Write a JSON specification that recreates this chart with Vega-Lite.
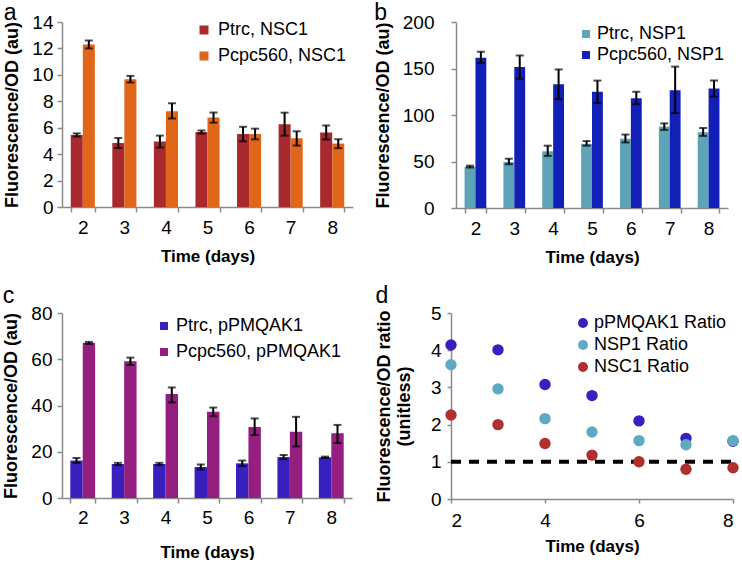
{
  "$schema": "https://vega.github.io/schema/vega-lite/v6.json",
  "padding": {"left": 2, "top": 2, "right": 0, "bottom": 0},
  "background": "white",
  "datasets": {
    "a": [
      {"day": 2, "series": "Ptrc, NSC1", "value": 5.45, "lo": 5.33, "hi": 5.57},
      {"day": 3, "series": "Ptrc, NSC1", "value": 4.84, "lo": 4.46, "hi": 5.22},
      {"day": 4, "series": "Ptrc, NSC1", "value": 4.95, "lo": 4.5, "hi": 5.4},
      {"day": 5, "series": "Ptrc, NSC1", "value": 5.67, "lo": 5.55, "hi": 5.79},
      {"day": 6, "series": "Ptrc, NSC1", "value": 5.52, "lo": 4.97, "hi": 6.07},
      {"day": 7, "series": "Ptrc, NSC1", "value": 6.27, "lo": 5.4, "hi": 7.14},
      {"day": 8, "series": "Ptrc, NSC1", "value": 5.64, "lo": 5.11, "hi": 6.17},
      {"day": 2, "series": "Pcpc560, NSC1", "value": 12.3, "lo": 12.0, "hi": 12.6},
      {"day": 3, "series": "Pcpc560, NSC1", "value": 9.67, "lo": 9.42, "hi": 9.92},
      {"day": 4, "series": "Pcpc560, NSC1", "value": 7.25, "lo": 6.7, "hi": 7.85},
      {"day": 5, "series": "Pcpc560, NSC1", "value": 6.78, "lo": 6.38, "hi": 7.15},
      {"day": 6, "series": "Pcpc560, NSC1", "value": 5.52, "lo": 5.12, "hi": 5.93},
      {"day": 7, "series": "Pcpc560, NSC1", "value": 5.2, "lo": 4.65, "hi": 5.73},
      {"day": 8, "series": "Pcpc560, NSC1", "value": 4.8, "lo": 4.45, "hi": 5.13}
    ],
    "b": [
      {"day": 2, "series": "Ptrc, NSP1", "value": 44.5, "lo": 43.5, "hi": 45.5},
      {"day": 3, "series": "Ptrc, NSP1", "value": 49.5, "lo": 47, "hi": 53},
      {"day": 4, "series": "Ptrc, NSP1", "value": 61, "lo": 56, "hi": 67},
      {"day": 5, "series": "Ptrc, NSP1", "value": 69, "lo": 67, "hi": 72},
      {"day": 6, "series": "Ptrc, NSP1", "value": 74.5, "lo": 70.5, "hi": 79},
      {"day": 7, "series": "Ptrc, NSP1", "value": 87.5, "lo": 84, "hi": 91},
      {"day": 8, "series": "Ptrc, NSP1", "value": 81.5, "lo": 77.5, "hi": 86},
      {"day": 2, "series": "Pcpc560, NSP1", "value": 161.5, "lo": 156, "hi": 168},
      {"day": 3, "series": "Pcpc560, NSP1", "value": 151.5, "lo": 139, "hi": 164},
      {"day": 4, "series": "Pcpc560, NSP1", "value": 133, "lo": 117, "hi": 149},
      {"day": 5, "series": "Pcpc560, NSP1", "value": 125, "lo": 113, "hi": 137},
      {"day": 6, "series": "Pcpc560, NSP1", "value": 118, "lo": 111.5, "hi": 125},
      {"day": 7, "series": "Pcpc560, NSP1", "value": 126.5, "lo": 102, "hi": 152},
      {"day": 8, "series": "Pcpc560, NSP1", "value": 128.5, "lo": 119.5, "hi": 137}
    ],
    "c": [
      {"day": 2, "series": "Ptrc, pPMQAK1", "value": 16.2, "lo": 15.2, "hi": 17.3},
      {"day": 3, "series": "Ptrc, pPMQAK1", "value": 14.7, "lo": 14.2, "hi": 15.2},
      {"day": 4, "series": "Ptrc, pPMQAK1", "value": 14.7, "lo": 14.2, "hi": 15.2},
      {"day": 5, "series": "Ptrc, pPMQAK1", "value": 13.4, "lo": 12.3, "hi": 14.5},
      {"day": 6, "series": "Ptrc, pPMQAK1", "value": 15.0, "lo": 13.8, "hi": 16.2},
      {"day": 7, "series": "Ptrc, pPMQAK1", "value": 17.7, "lo": 16.8, "hi": 18.6},
      {"day": 8, "series": "Ptrc, pPMQAK1", "value": 17.6, "lo": 17.3, "hi": 17.9},
      {"day": 2, "series": "Pcpc560, pPMQAK1", "value": 67.1, "lo": 66.6, "hi": 67.5},
      {"day": 3, "series": "Pcpc560, pPMQAK1", "value": 59.1, "lo": 57.5, "hi": 60.7},
      {"day": 4, "series": "Pcpc560, pPMQAK1", "value": 45.0, "lo": 41.3, "hi": 47.8},
      {"day": 5, "series": "Pcpc560, pPMQAK1", "value": 37.3, "lo": 35.4, "hi": 39.1},
      {"day": 6, "series": "Pcpc560, pPMQAK1", "value": 30.7, "lo": 27.2, "hi": 34.4},
      {"day": 7, "series": "Pcpc560, pPMQAK1", "value": 28.6, "lo": 22.3, "hi": 35.1},
      {"day": 8, "series": "Pcpc560, pPMQAK1", "value": 28.0, "lo": 23.8, "hi": 31.6}
    ],
    "d": [
      {"day": 2, "series": "pPMQAK1 Ratio", "ratio": 4.14},
      {"day": 3, "series": "pPMQAK1 Ratio", "ratio": 4.01},
      {"day": 4, "series": "pPMQAK1 Ratio", "ratio": 3.08},
      {"day": 5, "series": "pPMQAK1 Ratio", "ratio": 2.78},
      {"day": 6, "series": "pPMQAK1 Ratio", "ratio": 2.1},
      {"day": 7, "series": "pPMQAK1 Ratio", "ratio": 1.63},
      {"day": 8, "series": "pPMQAK1 Ratio", "ratio": 1.55},
      {"day": 2, "series": "NSP1 Ratio", "ratio": 3.61},
      {"day": 3, "series": "NSP1 Ratio", "ratio": 2.96},
      {"day": 4, "series": "NSP1 Ratio", "ratio": 2.16},
      {"day": 5, "series": "NSP1 Ratio", "ratio": 1.8},
      {"day": 6, "series": "NSP1 Ratio", "ratio": 1.57},
      {"day": 7, "series": "NSP1 Ratio", "ratio": 1.46},
      {"day": 8, "series": "NSP1 Ratio", "ratio": 1.57},
      {"day": 2, "series": "NSC1 Ratio", "ratio": 2.26},
      {"day": 3, "series": "NSC1 Ratio", "ratio": 2.0},
      {"day": 4, "series": "NSC1 Ratio", "ratio": 1.49},
      {"day": 5, "series": "NSC1 Ratio", "ratio": 1.18},
      {"day": 6, "series": "NSC1 Ratio", "ratio": 1.0},
      {"day": 7, "series": "NSC1 Ratio", "ratio": 0.8},
      {"day": 8, "series": "NSC1 Ratio", "ratio": 0.84}
    ],
    "ref": [
      {"day": 2, "ratio": 1},
      {"day": 8, "ratio": 1}
    ]
  },
  "spacing": 20,
  "resolve": {"scale": {"color": "independent", "xOffset": "independent"}, "legend": {"color": "independent"}},
  "vconcat": [
    {
      "spacing": 21,
      "resolve": {"scale": {"color": "independent", "xOffset": "independent"}, "legend": {"color": "independent"}},
      "hconcat": [
        {
          "width": 291,
          "height": 185,
          "title": {"text": "a", "offset": -12},
          "data": {"name": "a"},
          "encoding": {
            "x": {"field": "day", "type": "ordinal", "scale": {"paddingInner": 0.42, "paddingOuter": 0.21},
                  "axis": {"title": "Time (days)", "labelAngle": 0, "tickBand": "extent", "labelPadding": 6, "titlePadding": 11}},
            "xOffset": {"field": "series", "type": "nominal", "sort": ["Ptrc, NSC1", "Pcpc560, NSC1"], "scale": {"paddingInner": 0, "paddingOuter": 0}}
          },
          "layer": [
            {
              "mark": {"type": "bar"},
              "encoding": {
                "y": {"field": "value", "type": "quantitative", "title": "Fluorescence/OD (au)", "scale": {"domain": [0, 14], "nice": false},
                      "axis": {"values": [0, 2, 4, 6, 8, 10, 12, 14], "labelOverlap": false, "labelPadding": 4, "titlePadding": 10}},
                "color": {"field": "series", "type": "nominal", "sort": ["Ptrc, NSC1", "Pcpc560, NSC1"],
                          "scale": {"domain": ["Ptrc, NSC1", "Pcpc560, NSC1"], "range": ["#a82a2e", "#e0661a"]},
                          "legend": {"title": null, "orient": "none", "legendX": 133, "legendY": -1, "rowPadding": 8, "labelOffset": 5, "symbolSize": 81}}
              }
            },
            {
              "mark": {"type": "rule", "color": "black", "strokeWidth": 2},
              "encoding": {"y": {"field": "lo", "type": "quantitative", "title": "Fluorescence/OD (au)", "axis": {"values": [0, 2, 4, 6, 8, 10, 12, 14], "labelOverlap": false, "labelPadding": 4, "titlePadding": 10}}, "y2": {"field": "hi"}}
            },
            {
              "mark": {"type": "tick", "color": "black", "thickness": 2, "size": 8},
              "encoding": {"y": {"field": "lo", "type": "quantitative", "title": "Fluorescence/OD (au)", "axis": {"values": [0, 2, 4, 6, 8, 10, 12, 14], "labelOverlap": false, "labelPadding": 4, "titlePadding": 10}}}
            },
            {
              "mark": {"type": "tick", "color": "black", "thickness": 2, "size": 8},
              "encoding": {"y": {"field": "hi", "type": "quantitative", "title": "Fluorescence/OD (au)", "axis": {"values": [0, 2, 4, 6, 8, 10, 12, 14], "labelOverlap": false, "labelPadding": 4, "titlePadding": 10}}}
            }
          ]
        },
        {
          "width": 272,
          "height": 186,
          "title": {"text": "b", "offset": -12},
          "data": {"name": "b"},
          "encoding": {
            "x": {"field": "day", "type": "ordinal", "scale": {"paddingInner": 0.44, "paddingOuter": 0.22},
                  "axis": {"title": "Time (days)", "labelAngle": 0, "tickBand": "extent", "labelPadding": 6, "titlePadding": 11}},
            "xOffset": {"field": "series", "type": "nominal", "sort": ["Ptrc, NSP1", "Pcpc560, NSP1"], "scale": {"paddingInner": 0, "paddingOuter": 0}}
          },
          "layer": [
            {
              "mark": {"type": "bar"},
              "encoding": {
                "y": {"field": "value", "type": "quantitative", "title": "Fluorescence/OD (au)", "scale": {"domain": [0, 200], "nice": false},
                      "axis": {"values": [0, 50, 100, 150, 200], "labelOverlap": false, "labelPadding": 17, "titlePadding": 10}},
                "color": {"field": "series", "type": "nominal", "sort": ["Ptrc, NSP1", "Pcpc560, NSP1"],
                          "scale": {"domain": ["Ptrc, NSP1", "Pcpc560, NSP1"], "range": ["#5fa3b8", "#1220b8"]},
                          "legend": {"title": null, "orient": "none", "legendX": 121, "legendY": 3, "rowPadding": 3, "labelOffset": 2, "symbolSize": 64}}
              }
            },
            {
              "mark": {"type": "rule", "color": "black", "strokeWidth": 2},
              "encoding": {"y": {"field": "lo", "type": "quantitative", "title": "Fluorescence/OD (au)", "axis": {"values": [0, 50, 100, 150, 200], "labelOverlap": false, "labelPadding": 17, "titlePadding": 10}}, "y2": {"field": "hi"}}
            },
            {
              "mark": {"type": "tick", "color": "black", "thickness": 2, "size": 8},
              "encoding": {"y": {"field": "lo", "type": "quantitative", "title": "Fluorescence/OD (au)", "axis": {"values": [0, 50, 100, 150, 200], "labelOverlap": false, "labelPadding": 17, "titlePadding": 10}}}
            },
            {
              "mark": {"type": "tick", "color": "black", "thickness": 2, "size": 8},
              "encoding": {"y": {"field": "hi", "type": "quantitative", "title": "Fluorescence/OD (au)", "axis": {"values": [0, 50, 100, 150, 200], "labelOverlap": false, "labelPadding": 17, "titlePadding": 10}}}
            }
          ]
        }
      ]
    },
    {
      "spacing": 23,
      "resolve": {"scale": {"color": "independent", "xOffset": "independent"}, "legend": {"color": "independent"}},
      "hconcat": [
        {
          "width": 290,
          "height": 185,
          "title": {"text": "c", "offset": -4},
          "data": {"name": "c"},
          "encoding": {
            "x": {"field": "day", "type": "ordinal", "scale": {"paddingInner": 0.4, "paddingOuter": 0.2},
                  "axis": {"title": "Time (days)", "labelAngle": 0, "tickBand": "extent", "labelPadding": 5, "titlePadding": 17}},
            "xOffset": {"field": "series", "type": "nominal", "sort": ["Ptrc, pPMQAK1", "Pcpc560, pPMQAK1"], "scale": {"paddingInner": 0, "paddingOuter": 0}}
          },
          "layer": [
            {
              "mark": {"type": "bar"},
              "encoding": {
                "y": {"field": "value", "type": "quantitative", "title": "Fluorescence/OD (au)", "scale": {"domain": [0, 80], "nice": false},
                      "axis": {"values": [0, 20, 40, 60, 80], "labelOverlap": false, "labelPadding": 5, "titlePadding": 10}},
                "color": {"field": "series", "type": "nominal", "sort": ["Ptrc, pPMQAK1", "Pcpc560, pPMQAK1"],
                          "scale": {"domain": ["Ptrc, pPMQAK1", "Pcpc560, pPMQAK1"], "range": ["#3a1fbf", "#951f7e"]},
                          "legend": {"title": null, "orient": "none", "legendX": 93, "legendY": 4, "rowPadding": 8, "labelOffset": 3, "symbolSize": 64}}
              }
            },
            {
              "mark": {"type": "rule", "color": "black", "strokeWidth": 2},
              "encoding": {"y": {"field": "lo", "type": "quantitative", "title": "Fluorescence/OD (au)", "axis": {"values": [0, 20, 40, 60, 80], "labelOverlap": false, "labelPadding": 5, "titlePadding": 10}}, "y2": {"field": "hi"}}
            },
            {
              "mark": {"type": "tick", "color": "black", "thickness": 2, "size": 8},
              "encoding": {"y": {"field": "lo", "type": "quantitative", "title": "Fluorescence/OD (au)", "axis": {"values": [0, 20, 40, 60, 80], "labelOverlap": false, "labelPadding": 5, "titlePadding": 10}}}
            },
            {
              "mark": {"type": "tick", "color": "black", "thickness": 2, "size": 8},
              "encoding": {"y": {"field": "hi", "type": "quantitative", "title": "Fluorescence/OD (au)", "axis": {"values": [0, 20, 40, 60, 80], "labelOverlap": false, "labelPadding": 5, "titlePadding": 10}}}
            }
          ]
        },
        {
          "width": 282,
          "height": 186,
          "title": {"text": "d", "offset": -4},
          "layer": [
            {
              "data": {"name": "ref"},
              "mark": {"type": "line", "color": "black", "strokeWidth": 4, "strokeDash": [10, 8], "strokeCap": "butt"},
              "encoding": {
                "x": {"field": "day", "type": "quantitative", "title": "Time (days)", "scale": {"domain": [2, 8], "nice": false, "zero": false},
                      "axis": {"values": [2, 4, 6, 8], "tickSize": 4, "labelPadding": 8, "titlePadding": 8}},
                "y": {"field": "ratio", "type": "quantitative", "title": ["Fluorescence/OD ratio", "(unitless)"], "scale": {"domain": [0, 5], "nice": false},
                      "axis": {"titleLineHeight": 20, "values": [0, 1, 2, 3, 4, 5], "labelOverlap": false, "tickSize": 4, "labelPadding": 6, "titlePadding": 17}}
              }
            },
            {
              "data": {"name": "d"},
              "mark": {"type": "circle", "size": 130, "opacity": 1},
              "encoding": {
                "x": {"field": "day", "type": "quantitative", "title": "Time (days)", "scale": {"domain": [2, 8], "nice": false, "zero": false},
                      "axis": {"values": [2, 4, 6, 8], "tickSize": 4, "labelPadding": 8, "titlePadding": 8}},
                "y": {"field": "ratio", "type": "quantitative", "title": ["Fluorescence/OD ratio", "(unitless)"], "scale": {"domain": [0, 5], "nice": false},
                      "axis": {"titleLineHeight": 20, "values": [0, 1, 2, 3, 4, 5], "labelOverlap": false, "tickSize": 4, "labelPadding": 6, "titlePadding": 17}},
                "color": {"field": "series", "type": "nominal", "sort": ["pPMQAK1 Ratio", "NSP1 Ratio", "NSC1 Ratio"],
                          "scale": {"domain": ["pPMQAK1 Ratio", "NSP1 Ratio", "NSC1 Ratio"], "range": ["#3a1fbf", "#5eaac2", "#b03030"]},
                          "legend": {"title": null, "orient": "none", "legendX": 123, "legendY": 1, "rowPadding": 4, "labelOffset": 2, "symbolSize": 100, "symbolType": "circle"}}
              }
            }
          ]
        }
      ]
    }
  ],
  "config": {
    "view": {"stroke": null},
    "font": "Liberation Sans",
    "title": {"font": "Liberation Sans", "fontSize": 23, "fontWeight": "normal", "anchor": "start", "color": "black", "frame": "bounds"},
    "axis": {"labelFont": "Liberation Sans", "labelFontSize": 19, "labelColor": "black", "titleFont": "Liberation Sans", "titleFontSize": 17, "titleFontWeight": "bold", "titleColor": "black", "domainColor": "#8a8a8a", "domainWidth": 1.5, "tickColor": "#8a8a8a", "tickWidth": 1.5, "tickSize": 5, "grid": false},
    "axisY": {"titleFontSize": 18},
    "legend": {"labelFont": "Liberation Sans", "labelFontSize": 18, "labelColor": "black", "labelLimit": 0, "symbolType": "square", "symbolStrokeWidth": 0, "symbolOpacity": 1, "padding": 0},
    "bar": {"stroke": null}
  }
}
